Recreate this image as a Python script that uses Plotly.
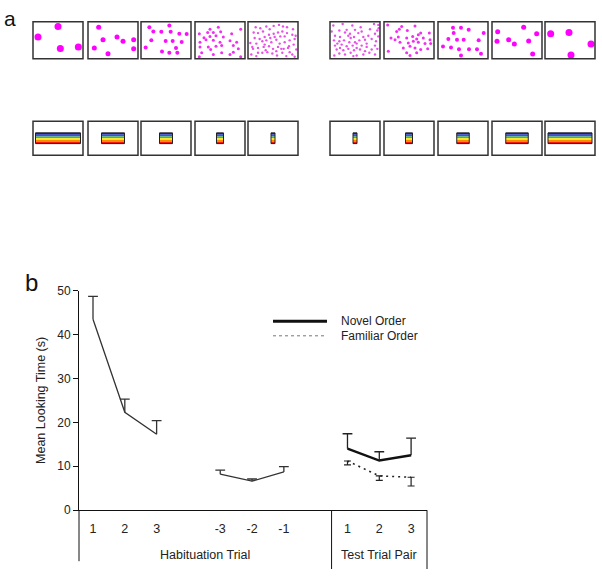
import plotly.graph_objects as go

W, H = 602, 576
FONT = "Liberation Sans, Arial, sans-serif"

# ---- panel b data ----
hab_labels = ["1", "2", "3", "-3", "-2", "-1"]
hab_mean = [43.5, 22.3, 17.3, 8.2, 6.6, 8.7]
hab_err = [5.2, 3.0, 3.1, 0.9, 0.5, 1.2]
test_labels = ["1", "2", "3"]
novel_mean = [14.0, 11.3, 12.5]
novel_err = [3.4, 2.0, 3.9]
familiar_mean = [11.2, 7.8, 7.5]
familiar_err = [0.9, 1.0, 2.0]

# ---- panel a data: dot positions inside a 150 x 113 stimulus frame ----
dots_4a = [(75, 15), (15, 47), (82, 82), (136, 77)]
dots_8a = [(32, 17), (45, 55), (87, 47), (105, 60), (137, 55), (19, 80), (60, 98), (137, 83)]
dots_16a = [(25, 17), (85, 12), (37, 30), (61, 31), (89, 31), (115, 37), (137, 38), (31, 57),
            (74, 59), (95, 59), (122, 62), (14, 79), (63, 91), (85, 95), (105, 80), (109, 95)]
dots_32a = [(45, 23), (70, 17), (77, 31), (38, 33), (55, 33), (13, 37), (27, 49), (45, 45),
            (63, 43), (85, 47), (110, 37), (137, 23), (15, 63), (33, 55), (55, 57), (75, 63),
            (105, 58), (125, 63), (15, 77), (40, 77), (63, 75), (80, 73), (115, 73), (130, 83),
            (20, 95), (55, 100), (80, 95), (105, 100), (115, 93), (137, 107), (13, 107), (47, 85)]
dots_64a = [(17, 33), (30, 35), (45, 30), (55, 15), (65, 23), (77, 13), (93, 10), (105, 15),
            (117, 17), (135, 23), (20, 50), (35, 53), (50, 47), (63, 40), (77, 37), (90, 33),
            (103, 30), (117, 35), (133, 40), (7, 65), (25, 67), (43, 60), (55, 57), (70, 63),
            (85, 55), (95, 67), (110, 63), (125, 57), (140, 53), (15, 83), (30, 80), (47, 77),
            (63, 75), (75, 83), (90, 77), (107, 83), (123, 75), (137, 70), (10, 100), (25, 105),
            (43, 95), (58, 93), (73, 97), (87, 103), (103, 95), (115, 105), (133, 100), (145, 85),
            (23, 17), (37, 20), (110, 45), (143, 43), (53, 87), (80, 47), (125, 93), (13, 77),
            (97, 45), (67, 50), (30, 95), (120, 80), (85, 90), (140, 107), (50, 70), (100, 83)]
dots_64b = [(10, 12), (38, 7), (67, 12), (92, 17), (132, 7), (145, 10), (28, 27), (45, 33),
            (50, 25), (75, 25), (85, 35), (120, 23), (142, 27), (15, 43), (30, 47), (55, 43),
            (62, 50), (72, 47), (100, 47), (115, 43), (135, 37), (145, 45), (12, 57), (28, 60),
            (42, 57), (58, 63), (75, 63), (88, 57), (105, 55), (125, 53), (138, 60), (15, 73),
            (35, 70), (50, 75), (68, 73), (80, 67), (95, 73), (110, 77), (135, 73), (20, 85),
            (40, 87), (55, 83), (72, 87), (90, 85), (105, 90), (125, 85), (142, 83), (28, 97),
            (45, 100), (62, 95), (80, 103), (100, 100), (118, 95), (13, 103), (135, 100), (22, 67),
            (110, 67), (60, 37), (95, 30), (30, 80), (146, 20), (5, 30), (80, 80), (70, 105)]
dots_32b = [(11, 10), (53, 15), (93, 13), (38, 30), (46, 23), (70, 27), (110, 35), (136, 35),
            (21, 50), (43, 47), (68, 50), (86, 45), (98, 53), (118, 50), (138, 55), (48, 63),
            (73, 65), (88, 60), (103, 63), (123, 67), (58, 80), (78, 75), (93, 80), (110, 85),
            (131, 83), (13, 90), (68, 95), (98, 95), (78, 103), (33, 55), (103, 40), (140, 67)]
dots_16b = [(45, 19), (69, 19), (92, 25), (137, 35), (47, 35), (31, 53), (57, 55), (77, 55),
            (122, 57), (15, 76), (39, 79), (63, 84), (93, 84), (117, 84), (69, 103), (129, 98)]
dots_8b = [(17, 31), (95, 17), (134, 37), (15, 60), (50, 55), (67, 68), (110, 59), (122, 99)]
dots_4b = [(17, 37), (72, 33), (138, 68), (78, 102)]

dot_sets = [dots_4a, dots_8a, dots_16a, dots_32a, dots_64a,
            dots_64b, dots_32b, dots_16b, dots_8b, dots_4b]
dot_sizes = {4: 7.0, 8: 5.0, 16: 4.0, 32: 3.0, 64: 2.4}
dot_colors = {4: "#ff00ff", 8: "#ff00ff", 16: "#f810f8", 32: "#f030f0", 64: "#e850e8"}

# rainbow bar widths as a share of the frame width
bar_widths = [0.90, 0.46, 0.26, 0.14, 0.08, 0.08, 0.14, 0.25, 0.45, 0.88]
rainbow = ["#1a1aa0", "#2f50ff", "#38c038", "#ffe800", "#ff8a00", "#f01818"]

# ---- layout constants (pixels on the page) ----
FRAME_W, FRAME_H = 150, 113
box_x = [33, 88, 141, 195, 248, 330, 384, 438, 492, 545]
BOX_W = 50
TOP_Y, TOP_H = 15, 38
BOT_Y, BOT_H = 117, 35

fig = go.Figure()
shapes, annos = [], []

# panel a: dot displays
for bx, pts in zip(box_x, dot_sets):
    shapes.append(dict(type="rect", xref="x2", yref="y2", x0=bx, x1=bx + BOX_W,
                       y0=TOP_Y, y1=TOP_Y + TOP_H, line=dict(color="#333", width=1.5)))
    fig.add_trace(go.Scatter(
        x=[bx + px / FRAME_W * BOX_W for px, py in pts],
        y=[TOP_Y + py / FRAME_H * TOP_H for px, py in pts],
        mode="markers", xaxis="x2", yaxis="y2", showlegend=False, hoverinfo="skip",
        marker=dict(color=dot_colors[len(pts)], size=dot_sizes[len(pts)], line=dict(width=0))))

# panel a: rainbow bars
for bx, bw in zip(box_x, bar_widths):
    shapes.append(dict(type="rect", xref="x2", yref="y2", x0=bx, x1=bx + BOX_W,
                       y0=BOT_Y, y1=BOT_Y + BOT_H, line=dict(color="#333", width=1.5)))
    cx = bx + BOX_W / 2
    half = bw * BOX_W / 2
    y0 = BOT_Y + BOT_H / 2 - 5.5
    step = 11 / len(rainbow)
    for i, c in enumerate(rainbow):
        shapes.append(dict(type="rect", xref="x2", yref="y2", x0=cx - half, x1=cx + half,
                           y0=y0 + i * step, y1=y0 + (i + 1) * step, fillcolor=c,
                           line=dict(width=0)))
    shapes.append(dict(type="rect", xref="x2", yref="y2", x0=cx - half, x1=cx + half,
                       y0=y0, y1=y0 + 11, line=dict(color="#222", width=1)))

# panel b: slots (three blocks of three, one empty slot between blocks)
hab_x = [(i // 3) * 4 + i % 3 for i in range(len(hab_mean))]
test_x = [8 + i for i in range(len(test_labels))]


def whiskers(xs, a, b):
    sx, sy = [], []
    for x, y0, y1 in zip(xs, a, b):
        sx += [x, x, None]
        sy += [y0, y1, None]
    return sx, sy


# habituation line, broken between the first and last three trials
hx = hab_x[:3] + [None] + hab_x[3:]
hy = hab_mean[:3] + [None] + hab_mean[3:]
fig.add_trace(go.Scatter(x=hx, y=hy, mode="lines", line=dict(color="#333", width=1.3),
                         showlegend=False, hoverinfo="skip"))
hab_top = [m + e for m, e in zip(hab_mean, hab_err)]
wx, wy = whiskers(hab_x, hab_mean, hab_top)
fig.add_trace(go.Scatter(x=wx, y=wy, mode="lines", line=dict(color="#333", width=1.3),
                         showlegend=False, hoverinfo="skip"))
fig.add_trace(go.Scatter(x=hab_x, y=hab_top, mode="markers", showlegend=False,
                         hoverinfo="skip",
                         marker=dict(symbol="line-ew", size=7, line=dict(color="#333", width=1.3))))

# novel order
fig.add_trace(go.Scatter(x=test_x, y=novel_mean, mode="lines", name="Novel Order",
                         line=dict(color="#111", width=2.5), showlegend=False))
novel_top = [m + e for m, e in zip(novel_mean, novel_err)]
wx, wy = whiskers(test_x, novel_mean, novel_top)
fig.add_trace(go.Scatter(x=wx, y=wy, mode="lines", line=dict(color="#222", width=1.3),
                         showlegend=False, hoverinfo="skip"))
fig.add_trace(go.Scatter(x=test_x, y=novel_top, mode="markers", showlegend=False,
                         hoverinfo="skip",
                         marker=dict(symbol="line-ew", size=7, line=dict(color="#222", width=1.3))))

# familiar order
fig.add_trace(go.Scatter(x=test_x, y=familiar_mean, mode="lines", name="Familiar Order",
                         line=dict(color="#222", width=1.6, dash="2px,4px"), showlegend=False,
                         error_y=dict(type="data", symmetric=False,
                                      array=[0] * len(familiar_err), arrayminus=familiar_err,
                                      color="#222", thickness=1.2, width=3.5)))

# axis extensions below zero and the block separator
Y0_PX = 515.7
span = 225.0  # pixels for 0..50
shapes += [
    dict(type="line", xref="x domain", yref="y domain", x0=0, x1=0, y0=0,
         y1=-(568 - Y0_PX) / span, line=dict(color="#111", width=1)),
    dict(type="line", xref="x", yref="y domain", x0=7.5, x1=7.5, y0=0,
         y1=-(H - Y0_PX) / span, line=dict(color="#111", width=1)),
    dict(type="line", xref="x domain", yref="y domain", x0=1, x1=1, y0=0,
         y1=-(H - Y0_PX) / span, line=dict(color="#111", width=1)),
]
annos += [
    dict(text="Habituation Trial", xref="x", yref="y domain", x=3.53,
         y=-(561.7 - Y0_PX) / span, yanchor="middle",
         showarrow=False, font=dict(size=12.5, color="#222", family=FONT)),
    dict(text="Test Trial Pair", xref="x", yref="y domain", x=9.0,
         y=-(561.7 - Y0_PX) / span, yanchor="middle",
         showarrow=False, font=dict(size=12.5, color="#222", family=FONT)),
]

# legend drawn on the page grid
shapes += [
    dict(type="line", xref="x2", yref="y2", x0=273, x1=327, y0=322, y1=322,
         line=dict(color="#111", width=3)),
    dict(type="line", xref="x2", yref="y2", x0=273, x1=327, y0=337, y1=337,
         line=dict(color="#777", width=1, dash="3px,3px")),
]
annos += [
    dict(text="Novel Order", xref="x2", yref="y2", x=339, y=322, xanchor="left",
         yanchor="middle", showarrow=False, font=dict(size=12, color="#222", family=FONT)),
    dict(text="Familiar Order", xref="x2", yref="y2", x=339, y=337, xanchor="left",
         yanchor="middle", showarrow=False, font=dict(size=12, color="#222", family=FONT)),
    dict(text="a", xref="x2", yref="y2", x=10, y=12, yanchor="middle", showarrow=False,
         font=dict(size=21, color="#111", family=FONT)),
    dict(text="b", xref="x2", yref="y2", x=31, y=282, yanchor="middle", showarrow=False,
         font=dict(size=24, color="#111", family=FONT)),
]

fig.update_layout(
    width=W, height=H, margin=dict(l=0, r=0, t=0, b=0),
    paper_bgcolor="white", plot_bgcolor="rgba(0,0,0,0)",
    font=dict(family=FONT, color="#222"),
    showlegend=False,
    xaxis=dict(domain=[79 / W, 427 / W], range=[-0.44, 10.5], anchor="y",
               showline=True, linecolor="#111", linewidth=1, showgrid=False, zeroline=False,
               ticks="", tickvals=hab_x + test_x, ticktext=hab_labels + test_labels,
               tickfont=dict(size=12.5, color="#222"), ticklabelstandoff=7),
    yaxis=dict(domain=[(H - Y0_PX) / H, (H - Y0_PX + span) / H],
               range=[0, 50], anchor="x",
               showline=True, linecolor="#111", linewidth=1, showgrid=False, zeroline=False,
               ticks="outside", ticklen=5, tickcolor="#111", tickvals=[0, 10, 20, 30, 40, 50],
               tickfont=dict(size=12, color="#222"),
               title=dict(text="Mean Looking Time (s)", font=dict(size=12.5, color="#222"),
                          standoff=8)),
    xaxis2=dict(domain=[0, 1], range=[0, W], anchor="y2", visible=False),
    yaxis2=dict(domain=[0, 1], range=[H, 0], anchor="x2", visible=False),
    shapes=shapes, annotations=annos,
)

# drop the default page margin so the figure sits at the window's top-left corner
fig.write_html("out.html", config={"displayModeBar": False},
               post_script="document.body.style.margin = '0';")
